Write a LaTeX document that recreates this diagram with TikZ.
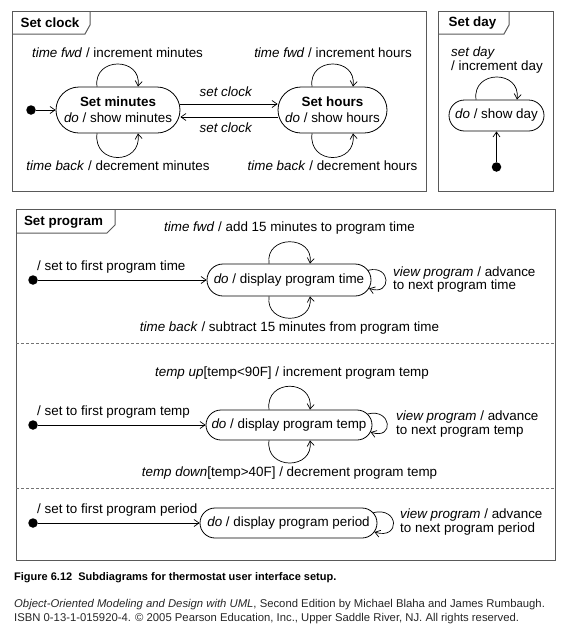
\documentclass[tikz,border=0pt]{standalone}
\usepackage{fontspec}
\setmainfont{Liberation Sans}
\usetikzlibrary{arrows.meta,shapes.misc}
\tikzset{
  st/.style={rounded rectangle, draw, line width=0.8pt, inner sep=0pt, align=center,
    font=\fontsize{13.4}{16}\selectfont},
  lbl/.style={inner sep=0pt, font=\fontsize{13.4}{16}\selectfont},
  lblb/.style={inner sep=0pt, font=\fontsize{13.4}{16}\selectfont\bfseries},
  lbltwo/.style={inner sep=0pt, align=left, anchor=west, font=\fontsize{13.4}{13.5}\selectfont},
  tr/.style={-{Straight Barb[length=5pt,width=7pt]}, line width=0.7pt},
  initdot/.style={circle, fill=black, inner sep=0pt, minimum size=9.5pt},
  frame/.style={draw=black!65, line width=1pt},
  sep/.style={draw=black!55, line width=0.8pt, dash pattern=on 2.5pt off 2.5pt},
  copy/.style={anchor=west, inner sep=0pt, text=black!85, font=\fontsize{11.3}{13}\selectfont},
}
\begin{document}
\begin{tikzpicture}[x=1pt,y=-1pt]
\useasboundingbox (0,0) rectangle (568,630);

% ---------------- Set clock ----------------
\draw[frame] (12,11) rectangle (426,191);
\draw[frame] (12,34) -- (85,34) -- (90,25) -- (90,11);
\node[lblb] (tclock) at (50,23) {Set clock};

\node[st, minimum width=124pt, minimum height=46pt] (m) at (118,110)
  {\textbf{Set minutes}\\\textit{do} / show minutes};
\node[st, minimum width=109pt, minimum height=46pt] (h) at (332.5,110)
  {\textbf{Set hours}\\\textit{do} / show hours};
\node[initdot] (i1) at (31,110) {};
\draw[tr] (i1) -- (m);
\draw[tr] ([yshift=6pt]m.east) -- ([yshift=6pt]h.west);
\draw[tr] ([yshift=-7pt]h.west) -- ([yshift=-7pt]m.east);
\node[lbl] (sc1) at (226,92) {\textit{set clock}};
\node[lbl] (sc2) at (226,128) {\textit{set clock}};

\draw[tr] ([xshift=-21pt]m.north) .. controls +(-4,-30) and +(4,-30) .. ([xshift=20pt]m.north);
\draw[tr] ([xshift=-21pt]m.south) .. controls +(-4,32) and +(4,32) .. ([xshift=20pt]m.south);
\draw[tr] ([xshift=-20.5pt]h.north) .. controls +(-4,-30) and +(4,-30) .. ([xshift=20.5pt]h.north);
\draw[tr] ([xshift=-20.5pt]h.south) .. controls +(-4,32) and +(4,32) .. ([xshift=20.5pt]h.south);

\node[lbl] (l1) at (117.5,53) {\textit{time fwd} / increment minutes};
\node[lbl] (l2) at (118,166) {\textit{time back} / decrement minutes};
\node[lbl] (l3) at (333,53) {\textit{time fwd} / increment hours};
\node[lbl] (l4) at (332.5,166) {\textit{time back} / decrement hours};

% ---------------- Set day ----------------
\draw[frame] (438,11) rectangle (553,191);
\draw[frame] (438,34) -- (504,34) -- (509,25) -- (509,11);
\node[lblb] (tday) at (472.5,23) {Set day};
\node[st, minimum width=95pt, minimum height=31pt] (d) at (496.5,115.5) {\textit{do} / show day};
\node[initdot] (i2) at (496.5,167) {};
\draw[tr] (i2) -- (d);
\draw[tr] ([xshift=-20.5pt]d.north) .. controls +(-4,-30) and +(4,-30) .. ([xshift=20.5pt]d.north);
\node[lbltwo] (ld) at (451,60) {\textit{set day}\\/ increment day};

% ---------------- Set program ----------------
\draw[frame] (16,209) rectangle (555,560);
\draw[frame] (16,233) -- (107,233) -- (115,225) -- (115,209);
\node[lblb] (tprog) at (63.5,222) {Set program};
\draw[sep] (16,343) -- (555,343);
\draw[sep] (16,488) -- (555,488);

% section 1
\node[st, minimum width=164pt, minimum height=32pt] (p1) at (289,280) {\textit{do} / display program time};
\node[initdot] (i3) at (33,280) {};
\draw[tr] (i3) -- (p1);
\draw[tr] ([xshift=-20pt]p1.north) .. controls +(-4,-29) and +(4,-29) .. ([xshift=21pt]p1.north);
\draw[tr] ([xshift=-20pt]p1.south) .. controls +(-4,29) and +(4,29) .. ([xshift=21pt]p1.south);
\draw[tr] (p1.7) .. controls +(23,-6) and +(23,8) .. (p1.-6);
\node[lbl] (p1t) at (289.5,228) {\textit{time fwd} / add 15 minutes to program time};
\node[lbl] (p1b) at (289.5,328) {\textit{time back} / subtract 15 minutes from program time};
\node[lbl, anchor=west] (p1i) at (37,267) {/ set to first program time};
\node[lbltwo] (p1v) at (393,279.5) {\textit{view program} / advance\\to next program time};

% section 2
\node[st, minimum width=166pt, minimum height=30pt] (p2) at (289,425) {\textit{do} / display program temp};
\node[initdot] (i4) at (33,425) {};
\draw[tr] (i4) -- (p2);
\draw[tr] ([xshift=-20pt]p2.north) .. controls +(-4,-31) and +(4,-31) .. ([xshift=21pt]p2.north);
\draw[tr] ([xshift=-20pt]p2.south) .. controls +(-4,30) and +(4,30) .. ([xshift=21pt]p2.south);
\draw[tr] (p2.8) .. controls +(24,-6) and +(24,8) .. (p2.-5);
\node[lbl] (p2t) at (292,373) {\textit{temp up}[temp<90F] / increment program temp};
\node[lbl] (p2b) at (289.5,473) {\textit{temp down}[temp>40F] / decrement program temp};
\node[lbl, anchor=west] (p2i) at (37,412) {/ set to first program temp};
\node[lbltwo] (p2v) at (396,424) {\textit{view program} / advance\\to next program temp};

% section 3
\node[st, minimum width=177pt, minimum height=30pt] (p3) at (288.5,523) {\textit{do} / display program period};
\node[initdot] (i5) at (33,523) {};
\draw[tr] (i5) -- (p3);
\draw[tr] (p3.7) .. controls +(26,-6) and +(26,8) .. (p3.-6);
\node[lbl, anchor=west] (p3i) at (37,510) {/ set to first program period};
\node[lbltwo] (p3v) at (400,522) {\textit{view program} / advance\\to next program period};

% ---------------- caption ----------------
\node[anchor=west, inner sep=0pt, font=\fontsize{11}{13}\selectfont\bfseries] (cap) at (14,578)
  {Figure 6.12\ \ Subdiagrams for thermostat user interface setup.};
\node[copy] (cr1) at (14,605)
  {\textit{Object-Oriented Modeling and Design with UML}, Second Edition by Michael Blaha and James Rumbaugh.};
\node[copy] (cr2) at (14,619)
  {ISBN 0-13-1-015920-4. \textcopyright{} 2005 Pearson Education, Inc., Upper Saddle River, NJ. All rights reserved.};
\end{tikzpicture}
\end{document}
